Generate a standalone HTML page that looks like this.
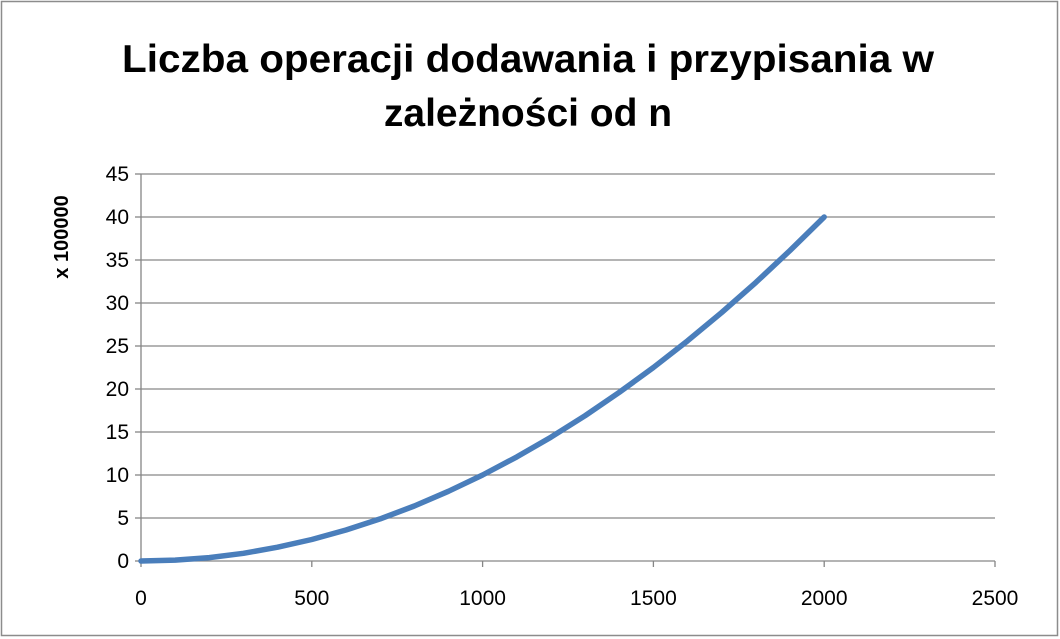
<!DOCTYPE html>
<html><head><meta charset="utf-8"><style>
html,body{margin:0;padding:0;background:#fff;}
svg{display:block;font-family:"Liberation Sans",sans-serif;}
</style></head><body>
<svg id="chart" width="1060" height="639" viewBox="0 0 1060 639">
<rect x="1.5" y="1.5" width="1056" height="634" fill="#fff" stroke="#8c8c8c" stroke-width="1.5"/>
<text x="528" y="72" text-anchor="middle" font-size="39" font-weight="bold" fill="#000" textLength="812" lengthAdjust="spacingAndGlyphs">Liczba operacji dodawania i przypisania w</text>
<text x="528" y="126" text-anchor="middle" font-size="39" font-weight="bold" fill="#000">zależności od n</text>
<text transform="translate(68,237) rotate(-90)" text-anchor="middle" font-size="20" font-weight="bold" fill="#000">x 100000</text>
<g id="grid"></g><g id="axes"></g><g id="series"></g>
</svg>
<script>
const xValues=[0,100,200,300,400,500,600,700,800,900,1000,1100,1200,1300,1400,1500,1600,1700,1800,1900,2000];
const yValues=[0,0.1,0.4,0.9,1.6,2.5,3.6,4.9,6.4,8.1,10,12.1,14.4,16.9,19.6,22.5,25.6,28.9,32.4,36.1,40];
const xTicks=[0,500,1000,1500,2000,2500];
const yTicks=[0,5,10,15,20,25,30,35,40,45];
const NS="http://www.w3.org/2000/svg";
const X0=141,X1=995,Y0=561,Y1=174;
const xs=v=>X0+(v-0)/(2500-0)*(X1-X0);
const ys=v=>Y0-(v-0)/(45-0)*(Y0-Y1);
function mk(t,a,p){const e=document.createElementNS(NS,t);for(const k in a)e.setAttribute(k,a[k]);p.appendChild(e);return e;}
const grid=document.getElementById('grid'),axes=document.getElementById('axes'),series=document.getElementById('series');
yTicks.forEach(v=>{
 if(v>0){const l=mk('line',{x1:X0,x2:X1,y1:ys(v),y2:ys(v),stroke:'#868686','stroke-width':1.3},grid);
 
 }
 const tk=mk('line',{x1:X0-6,x2:X0,y1:ys(v),y2:ys(v),stroke:'#868686','stroke-width':1.3},axes);
 
 
 const t=mk('text',{x:X0-12,y:ys(v)+7,'text-anchor':'end','font-size':21,fill:'#000'},axes);
 t.textContent=v;
 
 
});
xTicks.forEach(v=>{
 const tk=mk('line',{x1:xs(v),x2:xs(v),y1:Y0,y2:Y0+6,stroke:'#868686','stroke-width':1.3},axes);
 
 
 const t=mk('text',{x:xs(v),y:Y0+44,'text-anchor':'middle','font-size':21,fill:'#000'},axes);
 t.textContent=v;
 
 
});
const ya=mk('line',{x1:X0,x2:X0,y1:Y1,y2:Y0,stroke:'#868686','stroke-width':1.3},axes);


const xa=mk('line',{x1:X0,x2:X1,y1:Y0,y2:Y0,stroke:'#868686','stroke-width':1.3},axes);


const pts=xValues.map((x,i)=>xs(x).toFixed(1)+','+ys(yValues[i]).toFixed(1)).join(' ');
const pl=mk('polyline',{points:pts,fill:'none',stroke:'#4a7ebb','stroke-width':5.5,'stroke-linejoin':'round','stroke-linecap':'round'},series);


</script>
</body></html>
